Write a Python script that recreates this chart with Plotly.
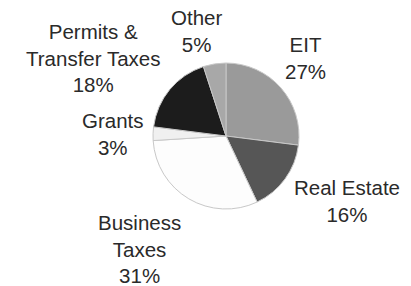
import plotly.graph_objects as go

categories = ["EIT", "Real Estate", "Business Taxes", "Grants", "Permits & Transfer Taxes", "Other"]
values = [27, 16, 31, 3, 18, 5]
label_lines = ["EIT", "Real Estate", "Business<br>Taxes", "Grants", "Permits &<br>Transfer Taxes", "Other"]
colors = ["#9a9a9a", "#565656", "#fdfdfd", "#f0f0f0", "#1c1c1c", "#a8a8a8"]

W, H = 411, 286
cx, cy, r = 226, 136, 73

fig = go.Figure(go.Pie(
    labels=categories, values=values, sort=False, direction="clockwise", rotation=0,
    marker=dict(colors=colors, line=dict(color="#c8c8c8", width=1)),
    textinfo="none", hoverinfo="label+percent", showlegend=False,
    domain=dict(x=[(cx - r) / W, (cx + r) / W], y=[1 - (cy + r) / H, 1 - (cy - r) / H]),
))

# label centres (pixels, top-left origin)
label_pos = [(305, 58), (347, 201), (139, 249), (113, 134), (93, 58), (196, 31)]
for lab, v, (x, y) in zip(label_lines, values, label_pos):
    fig.add_annotation(x=x / W, y=1 - y / H, xref="paper", yref="paper",
                       text=f"{lab}<br>{v}%", showarrow=False, align="center",
                       xanchor="center", yanchor="middle",
                       font=dict(family="Liberation Sans, Arial", size=20.5, color="#2a2a2a"))

fig.update_layout(width=W, height=H, margin=dict(l=0, r=0, t=0, b=0),
                  paper_bgcolor="white", plot_bgcolor="white")
fig.write_html("out.html", config={"displayModeBar": False},
               post_script="document.body.style.margin='0';")
